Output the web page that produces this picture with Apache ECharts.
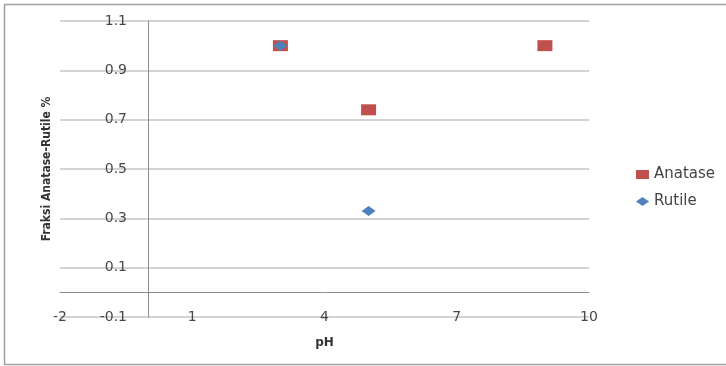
<!DOCTYPE html>
<html>
<head>
<meta charset="utf-8">
<script src="https://cdn.jsdelivr.net/npm/echarts@6/dist/echarts.min.js"></script>
<style>
  html, body { margin: 0; padding: 0; background: #fff; }
  #chart { width: 726px; height: 366px; }
</style>
</head>
<body>
<div id="chart"></div>
<script>
// Phase fraction versus pH
const phAnatase = [3, 5, 9];
const anatase = [1.0, 0.74, 1.0];
const phRutile = [3, 5];
const rutile = [1.0, 0.33];

const xTicks = { min: -2, max: 10, interval: 3 };
const yTicks = { min: -0.1, max: 1.1, interval: 0.2 };

const seriesNames = ['Anatase', 'Rutile'];

const chart = echarts.init(document.getElementById('chart'));

const labelFont = { fontFamily: 'DejaVu Sans', fontSize: 14, color: '#474747' };

chart.setOption({
  animation: false,
  backgroundColor: '#fff',
  graphic: [{
    type: 'rect',
    shape: { x: 4.5, y: 4.5, width: 740, height: 360 },
    style: { fill: 'none', stroke: '#a0a0a0', lineWidth: 1.5 },
    silent: true
  }],
  grid: { left: 60, right: 137, top: 21, bottom: 49, containLabel: false, outerBoundsMode: 'none' },
  legend: {
    orient: 'vertical',
    left: 631,
    top: 162,
    itemGap: 12,
    itemWidth: 13,
    itemHeight: 9,
    textStyle: { fontFamily: 'DejaVu Sans', fontSize: 15, color: '#444' },
    data: [
      { name: seriesNames[0], icon: 'rect' },
      { name: seriesNames[1], icon: 'diamond' }
    ]
  },
  xAxis: {
    type: 'value',
    min: xTicks.min,
    max: xTicks.max,
    interval: xTicks.interval,
    name: 'pH',
    nameLocation: 'middle',
    nameGap: 20,
    nameTextStyle: { fontFamily: 'DejaVu Sans', fontSize: 12, fontWeight: 'bold', color: '#333' },
    axisLine: { onZero: true, lineStyle: { color: '#8c8c8c', width: 1 } },
    axisTick: { show: false },
    axisLabel: Object.assign({ margin: 0, verticalAlign: 'middle' }, labelFont),
    splitLine: { show: false }
  },
  yAxis: {
    type: 'value',
    min: yTicks.min,
    max: yTicks.max,
    interval: yTicks.interval,
    name: 'Fraksi Anatase-Rutile %',
    nameLocation: 'middle',
    nameGap: 7,
    nameTextStyle: { fontFamily: 'DejaVu Sans Condensed', fontSize: 12, fontWeight: 'bold', color: '#333' },
    axisLine: { show: true, onZero: true, lineStyle: { color: '#8c8c8c', width: 1 } },
    axisTick: { show: false },
    axisLabel: Object.assign({ inside: true, margin: 67, align: 'right', formatter: v => v.toFixed(1) }, labelFont),
    splitLine: { show: true, lineStyle: { color: '#c4c4c4', width: 1.5 } }
  },
  series: [
    {
      name: seriesNames[0],
      type: 'scatter',
      symbol: 'rect',
      symbolSize: [15, 11],
      itemStyle: { color: '#C0504D', opacity: 1 },
      data: phAnatase.map((x, i) => [x, anatase[i]])
    },
    {
      name: seriesNames[1],
      type: 'scatter',
      symbol: 'diamond',
      symbolSize: [14, 10],
      itemStyle: { color: '#4F81BD', opacity: 1 },
      data: phRutile.map((x, i) => [x, rutile[i]])
    }
  ]
});
</script>
</body>
</html>
